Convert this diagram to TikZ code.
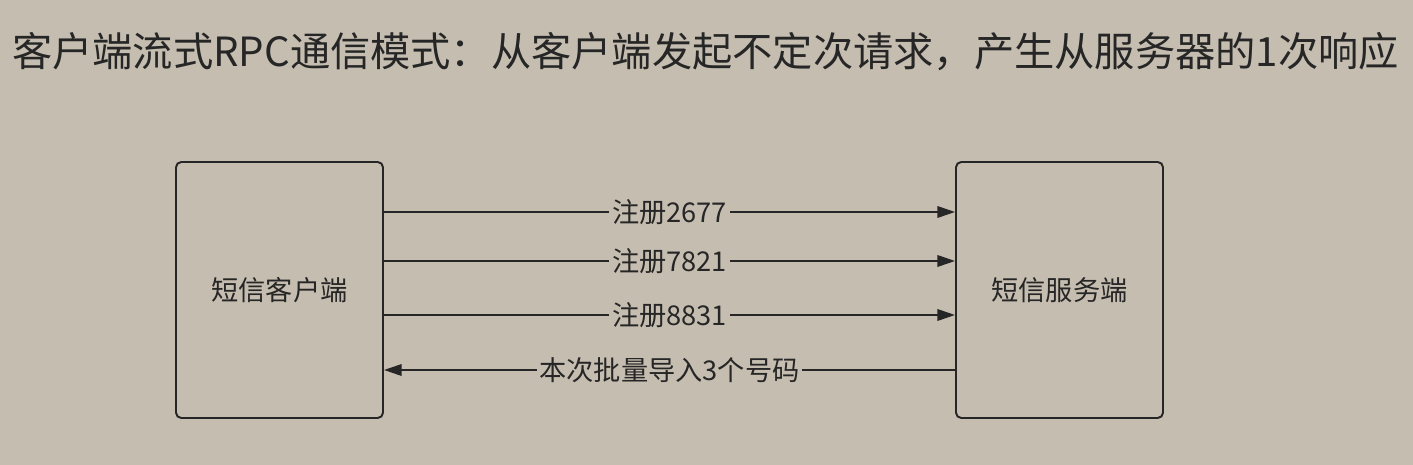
\documentclass[tikz,border=0pt]{standalone}
\usepackage{fontspec}
\setmainfont{Noto Sans CJK SC}
\usepackage{tikz}
\usetikzlibrary{arrows.meta, positioning, calc}

\definecolor{bgcol}{RGB}{197,189,176}
\definecolor{inkcol}{RGB}{38,38,38}

\tikzset{
  party/.style={draw=inkcol, line width=1.1pt, rounded corners=3pt,
    minimum width=4.14cm, minimum height=5.12cm, inner sep=0pt,
    font=\fontsize{15.5}{18}\selectfont, text=inkcol},
  msg/.style={draw=inkcol, line width=1.1pt,
    -{Triangle[length=10pt, width=6.5pt]}},
  msglbl/.style={fill=bgcol, inner sep=1.5pt,
    font=\fontsize{15.5}{18}\selectfont, text=inkcol},
}

\begin{document}
\begin{tikzpicture}
\fill[bgcol] (0,0) rectangle (28.26,9.30);
\useasboundingbox (0,0) rectangle (28.26,9.30);

% Title
\node[text=inkcol, font=\fontsize{22.9}{26}\selectfont] (title) at (14.11,8.26)
  {客户端流式RPC通信模式：从客户端发起不定次请求，产生从服务器的1次响应};

% Client and server
\node[party] (client) at (5.59,3.50) {短信客户端};
\node[party] (server) at (21.19,3.50) {短信服务端};

% Requests from the client
\draw[msg] ([yshift=1.56cm]client.east) -- ([yshift=1.56cm]server.west)
  node[midway, msglbl]{注册2677};
\draw[msg] ([yshift=0.58cm]client.east) -- ([yshift=0.58cm]server.west)
  node[midway, msglbl]{注册7821};
\draw[msg] ([yshift=-0.50cm]client.east) -- ([yshift=-0.50cm]server.west)
  node[midway, msglbl]{注册8831};

% One response
\draw[msg] ([yshift=-1.60cm]server.west) -- ([yshift=-1.60cm]client.east)
  node[midway, msglbl]{本次批量导入3个号码};
\end{tikzpicture}
\end{document}
